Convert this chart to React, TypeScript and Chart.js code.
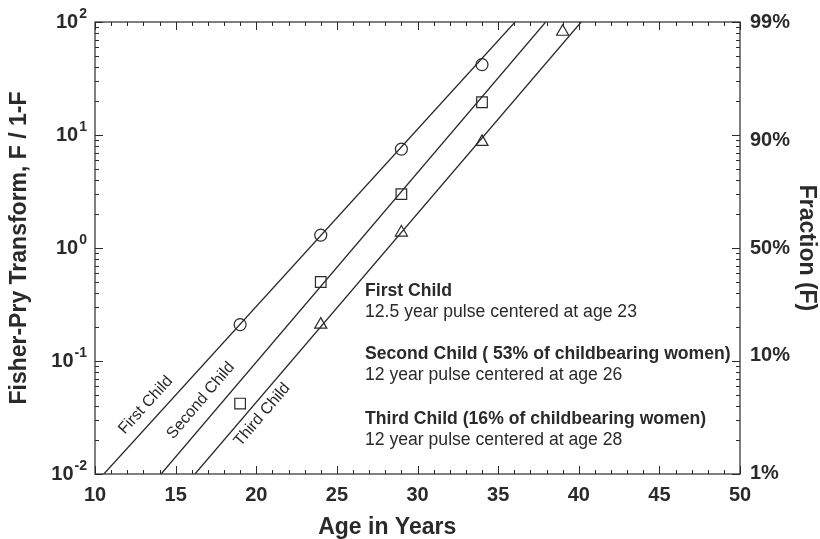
import React, { useEffect, useRef } from "react";
import { Chart, registerables } from "chart.js";

Chart.register(...registerables);

// ---------- data ----------
const markerAges = [19, 24, 29, 34];
const thirdMarkerAges = [24, 29, 34, 39];
const firstChild = [0.21, 1.3, 7.5, 42];
const secondChild = [0.042, 0.5, 3.0, 19.5];
const thirdChild = [0.21, 1.37, 8.7, 82];

const fitValues = [0.01, 100];
const firstFitAges = [10.55, 36.05];
const secondFitAges = [14.1, 37.95];
const thirdFitAges = [16.2, 40.15];

const leftExponents = [-2, -1, 0, 1, 2];
const rightFractions = [0.99, 0.9, 0.5, 0.1, 0.01];
const rightLabels = ["99%", "90%", "50%", "10%", "1%"];

const lineLabels = ["First Child", "Second Child", "Third Child"];
const noteTitles = [
  "First Child",
  "Second Child ( 53% of childbearing women)",
  "Third Child (16% of childbearing women)",
];
const noteTexts = [
  "12.5 year pulse centered at age 23",
  "12 year pulse centered at age 26",
  "12 year pulse centered at age 28",
];
const xTitle = "Age in Years";
const yTitle = "Fisher-Pry Transform, F / 1-F";
const y2Title = "Fraction (F)";

const FONT = "'Liberation Sans', Arial, Helvetica, sans-serif";
const INK = "#2a2a2a";

const pts = (xs: number[], ys: number[]) => xs.map((a, i) => ({ x: a, y: ys[i] }));

const decor = {
  id: "decor",
  afterDatasetsDraw(chart: any) {
    const { ctx, chartArea, scales } = chart;
    const { left, right, top, bottom } = chartArea;
    const x = scales.x;
    const y = scales.y;
    ctx.save();
    // frame
    ctx.strokeStyle = INK;
    ctx.lineWidth = 1.2;
    ctx.strokeRect(left, top, right - left, bottom - top);
    // inner ticks
    ctx.beginPath();
    for (let a = x.min; a <= x.max; a++) {
      const px = Math.round(x.getPixelForValue(a)) + 0.5;
      const len = a % 5 === 0 ? 8 : 4;
      ctx.moveTo(px, bottom);
      ctx.lineTo(px, bottom - len);
      ctx.moveTo(px, top);
      ctx.lineTo(px, top + len);
    }
    for (let e = -2; e <= 2; e++) {
      for (let m = 1; m < 10; m++) {
        const v = m * Math.pow(10, e);
        if (v > 100.0001) break;
        const py = Math.round(y.getPixelForValue(v)) + 0.5;
        const len = m === 1 ? 8 : 4;
        ctx.moveTo(left, py);
        ctx.lineTo(left + len, py);
        ctx.moveTo(right, py);
        ctx.lineTo(right - len, py);
      }
    }
    ctx.lineWidth = 1;
    ctx.stroke();

    // left tick labels with superscripts
    ctx.fillStyle = INK;
    ctx.textBaseline = "middle";
    leftExponents.forEach((e) => {
      const py = y.getPixelForValue(Math.pow(10, e));
      const exp = String(e);
      ctx.font = `bold 14px ${FONT}`;
      const we = ctx.measureText(exp).width;
      const xr = left - 8;
      ctx.textAlign = "left";
      ctx.fillText(exp, xr - we, py - 8);
      ctx.font = `bold 20px ${FONT}`;
      ctx.textAlign = "right";
      ctx.fillText("10", xr - we - 1, py);
    });

    // x title
    ctx.font = `bold 23px ${FONT}`;
    ctx.textAlign = "center";
    ctx.textBaseline = "alphabetic";
    ctx.fillText(xTitle, left + (right - left) * 0.453, 534);

    // notes
    const nx = left + 270;
    const baseY = [296, 359, 424];
    baseY.forEach((by, i) => {
      ctx.textAlign = "left";
      ctx.font = `bold 17.6px ${FONT}`;
      ctx.fillText(noteTitles[i], nx, by);
      ctx.font = `17.6px ${FONT}`;
      ctx.fillText(noteTexts[i], nx, by + 21);
    });

    // rotated line labels
    const fits = [firstFitAges, secondFitAges, thirdFitAges];
    const place = [
      { s: 43, off: 11 },
      { s: 34, off: 13 },
      { s: 50, off: -17 },
    ];
    ctx.font = `16px ${FONT}`;
    fits.forEach((fa, i) => {
      const x0 = x.getPixelForValue(fa[0]);
      const y0 = y.getPixelForValue(fitValues[0]);
      const x1 = x.getPixelForValue(fa[1]);
      const y1 = y.getPixelForValue(fitValues[1]);
      const L = Math.hypot(x1 - x0, y1 - y0);
      const ux = (x1 - x0) / L;
      const uy = (y1 - y0) / L;
      const nx2 = uy;
      const ny2 = -ux;
      const p = place[i];
      const px = x0 + p.s * ux + p.off * nx2;
      const py = y0 + p.s * uy + p.off * ny2;
      ctx.save();
      ctx.translate(px, py);
      ctx.rotate(Math.atan2(uy, ux));
      ctx.textAlign = "left";
      ctx.textBaseline = "alphabetic";
      ctx.fillText(lineLabels[i], 0, 0);
      ctx.restore();
    });
    ctx.restore();
  },
};

export default function App() {
  const ref = useRef<HTMLCanvasElement | null>(null);
  useEffect(() => {
    if (!ref.current) return;
    Chart.defaults.font.family = FONT;
    const lineDs = (data: any) => ({
      data,
      showLine: true,
      borderColor: INK,
      borderWidth: 1.3,
      pointRadius: 0,
      fill: false,
    });
    const markDs = (data: any, style: string, r: number) => ({
      data,
      showLine: false,
      pointStyle: style,
      pointRadius: r,
      borderColor: INK,
      borderWidth: 1.2,
      backgroundColor: "rgba(0,0,0,0)",
    });
    const chart = new Chart(ref.current, {
      type: "scatter",
      data: {
        datasets: [
          lineDs(pts(firstFitAges, fitValues)),
          lineDs(pts(secondFitAges, fitValues)),
          lineDs(pts(thirdFitAges, fitValues)),
          markDs(pts(markerAges, firstChild), "circle", 6),
          markDs(pts(markerAges, secondChild), "rect", 7.5),
          markDs(pts(thirdMarkerAges, thirdChild), "triangle", 7),
        ] as any,
      },
      options: {
        animation: false,
        responsive: true,
        maintainAspectRatio: false,
        layout: { padding: { top: 15, left: 0, right: 0, bottom: 0 } },
        plugins: { legend: { display: false }, tooltip: { enabled: false } },
        scales: {
          x: {
            type: "linear",
            min: 10,
            max: 50,
            ticks: {
              stepSize: 5,
              font: { size: 20, weight: "bold" },
              color: INK,
              padding: 9,
              maxRotation: 0,
            },
            grid: { display: false, drawTicks: false },
            border: { display: false },
            afterFit: (s: any) => {
              s.height = 65;
            },
          },
          y: {
            type: "logarithmic",
            position: "left",
            min: 0.01,
            max: 100,
            ticks: { display: false },
            grid: { display: false, drawTicks: false },
            border: { display: false },
            title: {
              display: true,
              text: yTitle,
              font: { size: 23, weight: "bold" },
              color: INK,
              padding: { top: 6, bottom: 0 },
            },
            afterFit: (s: any) => {
              s.width = 95;
            },
          },
          y2: {
            type: "logarithmic",
            position: "right",
            min: 0.01,
            max: 100,
            afterBuildTicks: (s: any) => {
              s.ticks = rightFractions.map((f) => ({ value: f / (1 - f) }));
            },
            ticks: {
              autoSkip: false,
              callback: (_v: any, i: number) => rightLabels[i],
              font: { size: 20, weight: "bold" },
              color: INK,
              padding: 10,
            },
            grid: { display: false, drawTicks: false },
            border: { display: false },
            title: {
              display: true,
              text: y2Title,
              font: { size: 23, weight: "bold" },
              color: INK,
              padding: { top: 0, bottom: 0 },
            },
            afterFit: (s: any) => {
              s.width = 80;
            },
          },
        } as any,
      },
      plugins: [decor],
    });
    return () => chart.destroy();
  }, []);
  return (
    <div style={{ position: "absolute", left: 0, top: 0, width: 820, height: 539, background: "#fff" }}>
      <canvas ref={ref} />
    </div>
  );
}
